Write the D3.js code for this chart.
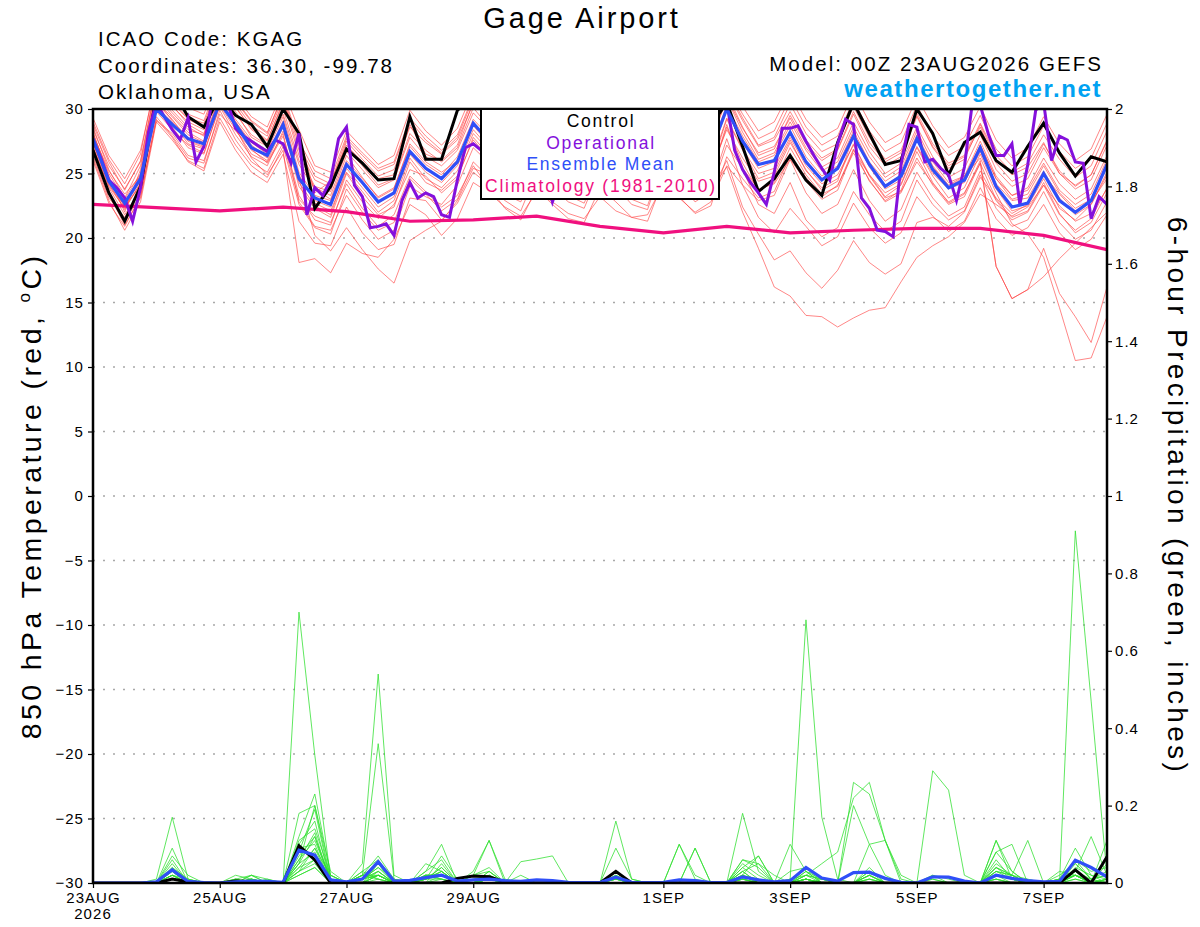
<!DOCTYPE html>
<html lang="en">
<head>
<meta charset="UTF-8">
<title>Gage Airport</title>
<script src="https://d3js.org/d3.v7.min.js"></script>
<style>
  body { margin: 0; background: #fff; }
  svg { display: block; }
  text { font-family: "Liberation Sans", Arial, Helvetica, sans-serif; fill: #000; letter-spacing: 0.1em; }
  .axis text { font-size: 15px; letter-spacing: 0.07em; }
  .axis line { stroke: #000; stroke-width: 1.2; }
  .axis path { display: none; }
</style>
</head>
<body>
<svg id="chart" width="1200" height="927"></svg>
<script>
// forecast hours (6-hourly ensemble output, 3-hourly operational)
const hours6 = d3.range(0, 385, 6);
const hours3 = d3.range(0, 385, 3);
const climHours = [0, 24, 48, 72, 96, 120, 144, 168, 192, 216, 240, 264, 288, 312, 336, 360, 384];

const tempTicks = [-30, -25, -20, -15, -10, -5, 0, 5, 10, 15, 20, 25, 30];
const precipTicks = [0, 0.2, 0.4, 0.6, 0.8, 1, 1.2, 1.4, 1.6, 1.8, 2];
const dateTicks = ["2026-08-23", "2026-08-25", "2026-08-27", "2026-08-29", "2026-09-01", "2026-09-03", "2026-09-05", "2026-09-07"];

// 850 hPa temperature, degC
const controlTemp = [
  26.8,23.5,21.3,24.0, 31.0,31.5,29.4,28.6, 31.0,29.5,28.8,27.1, 30.0,28.1,22.3,24.0,
  26.9,25.8,24.5,24.6, 29.4,26.1,26.1,29.9, 31.0,30.2,29.0,28.4, 31.0,29.6,28.2,27.5,
  30.8,29.4,28.0,27.3, 30.6,29.2,27.8,28.7, 30.5,27.1,23.6,24.6, 26.4,24.5,23.3,27.4,
  30.5,28.1,25.7,26.0, 30.0,28.1,24.9,27.4, 28.2,26.0,25.1,27.1, 28.9,26.6,24.8,26.3,
  25.9];
const meanTemp = [
  27.7,24.4,22.7,24.6, 30.0,28.8,27.7,27.3, 30.5,28.8,27.0,26.4, 28.8,24.6,23.1,22.6,
  25.7,24.3,22.8,23.5, 26.7,25.4,24.6,25.9, 28.9,27.5,26.2,25.5, 28.5,27.0,25.8,25.2,
  28.3,27.0,25.6,25.0, 28.6,27.4,25.9,26.8, 30.0,27.5,25.7,26.0, 28.2,25.9,24.5,25.4,
  27.9,25.7,24.0,24.8, 27.7,25.3,23.9,24.5, 27.0,24.0,22.4,22.7, 25.0,22.9,22.0,22.9,
  25.7];
const operTemp = [
  27.6,26.2,24.5,23.9,23.1,21.3,23.9,28.2, 30.5,29.4,28.4,27.6,29.3,25.9,27.1,30.5,
  31.0,30.5,28.5,27.9,27.5,27.1,26.7,27.6, 27.3,25.8,28.1,21.8,23.9,23.3,24.5,27.7,
  28.6,24.1,23.2,20.8,20.9,21.1,20.2,22.9, 24.3,23.1,23.5,23.2,21.8,21.6,24.5,27.0,
  27.3,26.8,27.8,28.9,27.6,26.3,25.4,26.8, 28.3,25.1,22.8,24.6,26.9,26.0,25.3,26.7,
  29.0,28.2,26.5,25.6,25.1,24.7,25.8,27.9, 29.3,28.4,27.0,26.2,25.5,26.9,28.8,30.5,
  30.5,26.8,25.3,24.3,23.5,22.6,25.1,28.5, 28.5,28.7,27.5,26.4,25.4,24.5,27.3,29.2,
  28.8,23.1,22.3,20.6,20.5,20.1,25.7,28.8, 28.6,25.9,26.1,25.4,24.9,22.9,25.5,30.5,
  30.3,28.1,26.4,26.4,27.3,22.6,25.7,29.9, 30.5,26.0,27.9,27.6,25.9,25.8,21.5,23.2,
  22.6];
const climTemp = [22.6, 22.35, 22.1, 22.4, 22.05, 21.3, 21.4, 21.7, 20.9, 20.4, 20.9, 20.4, 20.6, 20.75, 20.75, 20.2, 19.1];

const memberTemp = [
  [28.2,24.8,22.0,25.3, 31.5,30.2,29.0,28.4, 31.8,30.1,28.5,27.6, 30.4,27.9,23.5,24.4, 27.2,25.9,24.6,24.9, 28.8,26.5,26.0,27.2, 30.6,29.1,27.8,26.9, 30.2,28.4,27.1,26.5, 29.9,28.6,27.0,26.3, 30.4,28.9,27.5,28.1, 31.2,28.6,26.4,26.9, 29.5,27.3,26.0,26.8, 29.6,27.1,25.6,26.3, 29.4,27.0,25.4,26.1, 28.8,26.1,24.9,25.5, 27.4,25.0,24.1,24.9, 27.6],
  [26.9,23.6,21.2,23.4, 29.1,28.1,26.4,26.0, 29.6,28.3,26.9,25.8, 27.9,23.3,21.4,21.0, 24.5,22.8,21.5,22.6, 25.3,24.8,23.5,24.6, 27.8,26.4,25.0,24.2, 27.3,25.9,24.7,23.8, 27.2,25.9,24.3,23.7, 27.5,26.3,24.8,25.4, 29.2,26.8,24.6,25.1, 27.6,25.2,23.9,24.6, 27.3,24.9,23.2,24.1, 27.0,24.8,23.1,23.9, 26.5,23.8,22.1,22.5, 24.6,22.3,21.4,22.6, 25.1],
  [27.3,24.1,22.5,24.0, 30.4,29.2,27.5,27.0, 30.8,28.5,26.2,24.9, 26.8,18.1,18.4,17.3, 19.6,18.8,18.5,19.9, 22.6,21.8,20.2,21.5, 24.3,23.5,22.4,21.7, 23.6,22.8,21.9,21.5, 23.2,22.1,21.6,21.8, 24.2,23.1,22.0,22.8, 25.6,24.1,22.9,23.3, 26.1,24.4,23.0,23.7, 26.8,24.9,23.5,24.2, 27.1,25.0,23.8,24.3, 26.7,24.2,22.9,23.1, 25.2,23.1,21.8,22.6, 24.9],
  [28.0,25.2,23.4,24.8, 30.9,29.5,28.2,27.5, 31.2,29.0,27.4,26.5, 29.1,24.6,20.2,19.0, 20.8,19.1,17.6,16.5, 19.8,20.6,21.3,22.9, 25.4,24.9,23.4,23.0, 26.1,25.3,24.0,23.5, 26.6,25.2,24.1,23.6, 27.2,26.0,24.5,25.3, 28.4,26.2,24.4,24.8, 27.4,25.3,23.7,24.4, 27.9,25.5,23.8,24.5, 27.6,25.2,23.9,24.6, 27.2,24.6,23.0,23.4, 25.6,23.5,22.3,23.0, 25.8],
  [27.5,24.3,22.9,24.4, 31.1,29.7,28.4,28.0, 31.6,29.8,27.8,27.1, 29.6,25.7,23.8,23.0, 26.4,24.7,23.1,23.8, 27.3,25.9,25.1,26.0, 28.7,27.3,26.0,25.4, 28.2,26.7,25.4,24.7, 27.9,26.4,25.0,24.3, 28.0,26.3,24.5,23.8, 25.5,22.0,19.2,16.2, 15.5,14.0,13.9,13.1, 13.8,14.4,14.6,16.6, 18.5,19.4,20.1,21.2, 23.4,22.6,21.7,22.4, 24.1,22.5,21.3,21.9, 23.8],
  [26.4,23.1,21.6,23.8, 29.8,28.4,27.2,26.6, 30.2,28.0,26.3,25.6, 28.3,24.9,22.7,22.1, 25.1,23.6,22.0,22.9, 26.2,24.6,23.9,25.2, 28.1,26.8,25.5,24.9, 27.8,26.3,25.1,24.6, 27.5,26.1,24.7,24.0, 27.8,26.0,24.1,23.6, 26.0,22.4,20.3,18.3, 19.0,17.3,16.1,17.5, 19.8,18.1,17.2,18.0, 21.2,21.6,20.9,22.0, 24.7,23.1,21.9,22.6, 24.9,23.4,22.1,22.8, 24.6],
  [28.4,25.6,23.8,25.9, 31.9,30.6,29.3,28.9, 32.0,30.4,28.7,27.9, 30.8,26.8,24.5,23.9, 27.0,25.6,24.1,24.6, 28.1,26.8,25.9,27.0, 30.1,28.6,27.2,26.4, 29.6,28.1,26.7,26.0, 29.3,27.9,26.5,25.7, 29.6,28.3,26.9,27.5, 30.8,28.2,26.1,26.6, 29.0,26.8,25.2,25.9, 28.6,26.3,24.7,25.5, 28.3,25.9,24.3,24.8, 26.2,23.5,21.1,20.3, 18.5,14.6,10.5,10.7, 13.9],
  [27.1,24.0,22.3,24.2, 30.1,28.9,27.6,27.1, 30.6,28.9,27.1,26.2, 28.9,24.3,22.5,21.8, 25.4,23.9,22.4,23.2, 26.5,25.1,24.3,25.6, 28.4,27.0,25.7,25.1, 28.0,26.5,25.2,24.5, 27.7,26.2,24.8,24.1, 28.1,26.6,25.0,25.7, 29.3,26.9,25.0,25.4, 27.8,25.6,24.2,24.9, 27.2,24.8,23.1,23.6, 25.9,24.2,22.8,23.5, 25.8,17.8,15.3,16.0, 19.2,15.7,13.9,11.9, 16.2],
  [29.0,26.1,24.2,26.5, 32.6,31.2,30.1,29.6, 32.8,31.0,29.4,28.6, 31.5,28.4,25.6,25.1, 28.3,27.0,25.7,26.4, 29.9,28.3,27.2,28.5, 31.4,30.0,28.6,27.9, 31.0,29.5,28.2,27.6, 30.7,29.3,27.9,27.3, 31.0,29.7,28.3,29.1, 32.1,30.2,28.3,29.0, 31.4,29.2,27.8,28.5, 31.3,29.0,27.4,28.1, 30.9,28.7,27.0,27.8, 30.2,27.6,26.2,27.0, 29.4,27.3,26.0,26.9, 29.6],
  [27.8,24.6,22.6,24.9, 30.5,29.4,28.0,27.4, 31.0,29.2,27.6,26.8, 29.4,25.1,23.3,22.9, 26.0,24.6,23.2,23.9, 27.1,25.7,24.9,26.3, 29.2,27.9,26.6,25.8, 28.9,27.4,26.1,25.4, 28.6,27.2,25.8,25.2, 29.0,27.6,26.1,26.9, 30.3,27.9,25.9,26.4, 28.7,26.3,24.8,25.6, 28.3,25.9,24.4,25.2, 28.0,25.6,24.1,24.8, 27.5,24.8,23.3,23.7, 25.8,23.7,22.6,23.4, 26.1],
  [26.7,23.4,21.0,23.1, 29.4,27.9,26.2,25.8, 29.9,27.6,25.9,25.1, 27.4,23.0,21.7,21.2, 24.2,22.3,20.9,21.8, 24.8,23.6,22.4,23.3, 25.6,23.9,22.3,21.4, 23.8,22.6,21.5,21.2, 23.9,22.8,21.6,21.3, 24.5,23.2,21.9,22.5, 26.3,24.6,23.1,23.6, 26.4,24.7,23.2,24.1, 26.6,24.5,22.8,23.5, 26.2,24.1,22.6,23.2, 25.8,23.0,21.6,22.1, 24.3,21.9,20.4,21.2, 23.5],
  [28.6,25.3,23.1,25.6, 31.7,30.3,28.8,28.1, 31.9,30.2,28.4,27.5, 30.6,26.4,24.0,23.6, 27.5,26.1,24.8,25.3, 28.6,27.4,26.5,27.6, 30.4,29.3,27.9,27.1, 30.3,28.9,27.6,26.9, 30.1,28.6,27.2,26.5, 30.5,29.1,27.6,28.4, 31.6,29.3,27.2,27.8, 30.4,28.1,26.7,27.3, 30.2,27.8,26.1,26.8, 29.7,27.3,25.8,26.4, 28.9,26.4,25.1,25.8, 28.0,26.1,24.7,25.6, 28.3],
  [27.0,23.9,21.8,23.6, 30.0,28.6,27.0,26.5, 30.3,28.4,26.5,25.9, 28.1,22.8,20.9,20.6, 23.3,21.4,19.9,20.6, 24.0,23.2,22.6,24.1, 27.0,25.8,24.6,23.9, 26.9,25.4,24.2,23.6, 26.8,25.4,24.0,23.4, 27.1,25.6,24.0,24.9, 28.6,25.8,23.7,24.3, 27.0,24.9,23.4,24.0, 26.9,24.4,22.9,23.7, 26.7,24.3,22.7,23.4, 26.0,17.8,15.3,16.0, 17.0,18.4,19.6,20.8, 22.0],
  [28.1,25.0,23.0,25.0, 31.3,29.9,28.6,27.9, 31.5,29.6,28.0,27.2, 30.0,26.0,23.9,23.3, 26.7,25.3,23.9,24.5, 27.8,26.3,25.6,26.8, 29.7,28.4,27.1,26.3, 29.4,27.9,26.6,25.9, 29.2,27.7,26.3,25.6, 29.5,28.0,26.6,27.3, 30.9,28.5,26.6,27.1, 29.3,27.0,25.5,26.2, 29.0,26.7,25.0,25.8, 28.6,26.3,24.7,25.4, 28.0,25.3,24.0,24.6, 27.0,25.0,23.8,24.5, 27.2],
  [27.4,24.2,22.2,24.3, 30.2,29.0,27.3,26.9, 30.7,28.7,26.8,26.0, 28.6,24.0,22.3,21.6, 25.0,23.2,21.8,22.4, 25.9,24.3,23.7,24.8, 27.6,26.2,24.9,24.3, 27.4,26.0,24.8,24.1, 27.3,25.8,24.4,23.8, 27.6,25.9,24.3,24.9, 28.8,25.3,22.6,21.9, 24.3,21.4,20.1,20.8, 23.6,21.8,20.5,21.3, 24.5,22.6,21.4,22.1, 24.9,22.3,20.9,21.4, 23.6,21.2,19.9,20.6, 22.8],
  [29.3,26.4,24.6,26.8, 32.2,30.9,29.6,29.1, 32.4,30.6,29.0,28.1, 31.2,27.5,25.2,24.6, 27.9,26.6,25.4,25.9, 29.3,27.9,26.8,28.0, 31.0,29.6,28.2,27.5, 30.7,29.2,27.9,27.2, 30.4,29.0,27.6,27.0, 30.8,29.4,28.0,28.7, 31.8,29.6,27.7,28.3, 30.9,28.6,27.2,27.9, 30.7,28.3,26.7,27.4, 30.3,27.9,26.4,27.1, 29.5,26.9,25.6,26.3, 28.7,26.7,25.4,26.2, 28.9],
  [26.2,22.9,20.6,22.8, 29.0,27.6,26.0,25.4, 29.3,27.2,25.6,24.7, 27.1,22.6,20.8,20.3, 23.8,22.0,20.6,21.2, 24.6,23.4,22.1,23.0, 25.9,24.7,23.4,22.8, 25.8,24.5,23.3,22.7, 25.6,24.3,23.0,22.5, 26.0,24.6,23.1,23.9, 27.7,24.1,21.6,20.4, 22.3,20.9,19.4,20.1, 22.7,20.8,19.6,20.4, 23.2,21.7,20.5,21.3, 23.9,21.5,20.2,20.8, 22.6,20.4,19.1,19.9, 21.8],
  [28.8,25.9,23.7,26.0, 32.0,30.5,29.2,28.6, 32.3,30.7,29.1,28.2, 31.0,27.2,24.8,24.2, 27.7,26.4,25.2,25.7, 29.1,27.6,26.6,27.8, 30.8,29.4,28.0,27.2, 30.5,29.0,27.7,27.0, 30.2,28.8,27.4,26.8, 30.6,29.2,27.8,28.6, 31.4,29.1,27.1,27.6, 29.8,27.6,26.2,26.9, 29.8,27.4,25.9,26.6, 29.5,27.1,25.6,26.3, 28.6,25.8,24.4,25.0, 27.3,25.2,24.0,24.9, 27.5],
  [26.0,22.7,20.9,23.2, 29.2,27.8,25.9,25.2, 29.0,26.8,25.1,24.3, 26.5,21.3,19.6,19.4, 22.4,20.4,19.1,19.5, 23.1,22.9,21.4,22.7, 25.1,24.1,22.9,22.1, 25.1,23.9,22.8,22.3, 25.3,24.0,22.6,22.2, 25.8,24.4,22.8,23.6, 27.2,25.4,23.8,24.2, 26.1,23.5,21.9,22.6, 25.3,22.9,21.3,22.2, 25.1,23.1,21.7,22.4, 25.2,22.9,21.4,22.0, 24.1,21.8,20.6,21.5, 23.9],
  [27.6,24.5,22.4,24.5, 30.7,29.1,27.8,27.2, 30.9,29.0,27.2,26.3, 29.0,24.8,22.9,22.4, 25.8,24.2,22.7,23.5, 26.8,25.3,24.6,25.9, 28.8,27.6,26.3,25.6, 28.5,27.0,25.8,25.1, 28.3,26.9,25.5,24.9, 28.6,27.1,25.6,26.4, 29.9,27.4,25.4,25.9, 28.3,26.0,24.6,25.3, 28.1,25.7,24.1,24.9, 27.8,25.5,24.0,24.7, 27.2,24.6,23.3,23.9, 26.2,24.2,23.0,23.8, 26.4]
];

// 6-hour precipitation, inches
const controlPrecip = [
  0,0,0,0, 0,0.01,0.003,0, 0,0.005,0.004,0, 0,0.096,0.06,0, 0,0,0,0, 0,0,0,0.012,
  0.018,0.016,0.003,0, 0,0,0,0, 0,0.03,0,0, 0,0,0,0, 0,0,0,0, 0,0,0,0,
  0,0,0,0, 0,0,0,0, 0,0,0,0, 0,0,0.034,0, 0.068];
const meanPrecip = [
  0,0,0,0, 0.003,0.034,0.004,0.001, 0,0.003,0.005,0.004, 0.002,0.085,0.072,0.008, 0.003,0.01,0.055,0.005, 0.007,0.014,0.02,0.005,
  0.008,0.01,0.006,0.004, 0.008,0.006,0.002,0.001, 0.001,0.015,0.002,0.001, 0.002,0.008,0.006,0.001, 0.001,0.016,0.008,0.003, 0.006,0.04,0.013,0.005,
  0.027,0.028,0.012,0.002, 0,0.016,0.015,0.005, 0,0.02,0.012,0.006, 0.003,0.004,0.059,0.04, 0.016];
const memberPrecip = [
  [0,0,0,0, 0,0.02,0,0, 0,0,0.01,0, 0,0.70,0.33,0.01, 0,0.01,0.04,0, 0,0.01,0.03,0, 0,0.02,0,0, 0,0,0,0, 0,0.03,0,0, 0,0,0,0, 0,0.01,0,0, 0,0.02,0.01,0, 0,0.03,0.01,0, 0,0,0,0, 0,0.02,0.01,0, 0,0,0.05,0.01, 0],
  [0,0,0,0, 0.01,0.17,0.01,0, 0,0.01,0,0, 0,0.12,0.23,0.02, 0,0.02,0.07,0.01, 0,0.03,0.06,0, 0.03,0.11,0,0, 0,0,0,0, 0,0,0,0, 0,0.10,0.02,0, 0,0.04,0.01,0, 0,0.03,0,0, 0.26,0.23,0.11,0.02, 0,0,0,0, 0,0.01,0,0, 0,0.01,0.09,0.02, 0.01],
  [0,0,0,0, 0,0.09,0,0, 0,0,0,0, 0,0.18,0.20,0.01, 0,0.05,0.54,0.02, 0,0.02,0.02,0, 0,0,0,0.02, 0,0,0,0, 0,0.09,0.01,0, 0,0,0,0, 0,0.18,0.03,0, 0,0,0,0, 0,0.02,0,0, 0,0.02,0.01,0, 0,0.11,0.03,0, 0,0,0.03,0.12, 0.02],
  [0,0,0,0, 0,0.07,0.02,0, 0,0,0,0, 0,0.10,0.16,0, 0,0.02,0.36,0.01, 0,0.01,0.04,0, 0,0.03,0,0, 0,0,0,0, 0,0.03,0,0, 0,0,0.09,0, 0,0.06,0.05,0, 0,0.01,0,0, 0,0,0,0, 0,0.29,0.24,0.02, 0,0.04,0.02,0, 0,0,0.02,0, 0.05],
  [0,0,0,0, 0,0.05,0,0, 0,0.01,0.02,0, 0,0.06,0.13,0, 0,0,0.05,0, 0,0.01,0.02,0, 0,0.03,0,0.055, 0.062,0.07,0,0, 0,0,0,0, 0,0,0,0, 0,0.03,0,0, 0.01,0.68,0.17,0.01, 0,0.02,0,0, 0,0.01,0,0, 0,0.08,0.03,0, 0,0,0.01,0, 0],
  [0,0,0,0, 0,0.03,0,0, 0,0,0.01,0, 0,0.09,0.10,0, 0,0.01,0.02,0, 0,0,0.05,0, 0.02,0.04,0,0, 0,0,0,0, 0,0.02,0,0, 0,0,0,0, 0,0.01,0,0, 0,0.03,0,0, 0,0,0,0, 0,0.02,0,0, 0,0.03,0.02,0.01, 0,0,0.91,0.47, 0.02],
  [0,0,0,0, 0,0.04,0.01,0, 0,0.02,0.01,0, 0,0.07,0.12,0.01, 0,0,0.03,0, 0,0.02,0.01,0, 0.02,0.03,0,0, 0,0,0,0, 0,0.01,0,0, 0,0,0,0, 0,0.06,0.04,0, 0.01,0.02,0.05,0.08, 0.22,0.26,0.11,0.01, 0,0,0,0, 0,0.05,0.02,0, 0,0.01,0.06,0.03, 0.04],
  [0,0,0,0, 0,0.03,0,0, 0,0,0.02,0, 0,0.04,0.09,0, 0,0.02,0.02,0, 0,0.01,0.07,0.01, 0,0.02,0,0, 0,0,0,0, 0,0.16,0.01,0, 0,0,0,0, 0,0.04,0.07,0, 0.03,0.04,0,0, 0,0.02,0,0, 0,0,0,0, 0,0.04,0.02,0, 0,0.03,0.02,0, 0.01],
  [0,0,0,0, 0,0.02,0,0, 0,0.01,0,0, 0,0.05,0.20,0.03, 0,0.03,0.06,0, 0,0.05,0.03,0, 0.02,0.11,0.01,0, 0,0,0,0, 0,0,0,0, 0,0,0,0, 0,0.02,0,0, 0,0.01,0,0, 0,0.03,0,0, 0,0,0,0, 0,0.03,0.02,0.11, 0,0,0.04,0.02, 0],
  [0,0,0,0, 0,0.01,0,0, 0,0,0.01,0, 0,0.03,0.06,0, 0,0.01,0.03,0, 0,0.03,0.10,0, 0,0.01,0,0, 0,0,0,0, 0,0.01,0,0, 0,0.10,0.01,0, 0,0.01,0,0, 0,0.02,0.01,0, 0,0.10,0.02,0, 0,0,0,0, 0,0.11,0.01,0, 0,0.02,0.05,0.01, 0.03],
  [0,0,0,0, 0,0.01,0,0, 0,0,0,0.01, 0,0.02,0.04,0, 0,0.03,0.01,0, 0,0.02,0.01,0, 0,0.01,0,0, 0,0,0,0, 0,0,0,0, 0,0,0.09,0, 0,0.02,0,0, 0,0,0.01,0, 0.20,0.10,0.11,0, 0,0,0,0, 0,0.08,0.10,0, 0,0.01,0.03,0, 0.11],
  [0,0,0,0, 0,0.01,0,0, 0,0,0,0, 0,0.03,0.05,0, 0,0,0.02,0, 0,0.01,0.03,0, 0,0,0,0, 0,0,0,0, 0,0,0,0, 0,0,0,0, 0,0.02,0.07,0, 0.10,0.03,0.01,0, 0,0.04,0,0, 0,0,0,0, 0,0.06,0.01,0, 0,0,0.03,0.01, 0],
  [0,0,0,0, 0,0.04,0,0, 0,0,0.01,0, 0,0.11,0.14,0.02, 0,0,0.02,0, 0,0.02,0.02,0, 0,0.01,0,0, 0,0,0,0, 0,0.03,0,0, 0,0,0,0, 0,0.03,0.05,0.02, 0,0.01,0,0, 0,0.01,0,0, 0,0,0,0, 0,0.04,0.01,0, 0,0.01,0.02,0, 0.01],
  [0,0,0,0, 0,0.02,0.01,0, 0,0,0.02,0.01, 0,0.08,0.19,0, 0,0.02,0.01,0, 0,0,0.02,0, 0,0.02,0,0, 0,0,0,0, 0,0,0,0, 0,0,0,0, 0,0.01,0,0, 0,0.01,0,0, 0,0.02,0,0, 0,0,0,0, 0,0.03,0.01,0, 0,0,0.06,0.01, 0.02],
  [0,0,0,0, 0,0.03,0,0, 0,0,0,0, 0,0.06,0.11,0.01, 0,0,0.02,0, 0,0.01,0.01,0, 0,0.01,0,0, 0,0,0,0, 0,0.01,0,0, 0,0,0,0, 0,0.02,0.01,0, 0,0.01,0,0, 0,0.01,0,0, 0,0,0,0, 0,0.02,0.01,0, 0,0,0.02,0, 0.01],
  [0,0,0,0, 0,0.01,0,0, 0,0.01,0,0, 0,0.05,0.08,0, 0,0.01,0.04,0.01, 0,0.02,0.02,0, 0,0.01,0,0, 0,0,0,0, 0,0,0,0, 0,0,0,0, 0,0.02,0,0, 0,0,0,0, 0,0,0,0, 0,0,0,0, 0,0.02,0,0, 0,0,0.01,0, 0],
  [0,0,0,0, 0,0.06,0,0, 0,0,0.01,0, 0,0.04,0.06,0.01, 0,0.02,0.05,0, 0,0.01,0.04,0, 0.01,0.02,0,0, 0,0,0,0, 0,0.02,0,0, 0,0,0,0, 0,0.05,0.02,0, 0,0.01,0,0, 0,0,0,0, 0,0.01,0,0, 0,0,0,0, 0,0,0.02,0.01, 0.02],
  [0,0,0,0, 0,0.02,0,0, 0,0,0,0, 0,0.02,0.04,0, 0,0,0.01,0, 0,0.02,0.02,0, 0,0.01,0,0, 0,0,0,0, 0,0,0,0, 0,0,0,0, 0,0.01,0,0, 0,0,0,0, 0,0.01,0,0, 0,0,0,0, 0,0.01,0,0, 0,0,0.03,0, 0],
  [0,0,0,0, 0,0.01,0,0, 0,0,0,0, 0,0.03,0.09,0.02, 0,0.01,0.03,0, 0,0,0.01,0, 0,0.02,0,0, 0,0,0,0, 0,0.01,0,0, 0,0,0,0, 0,0.03,0,0, 0,0.02,0,0, 0,0,0,0, 0,0,0,0, 0,0.02,0.01,0, 0,0.01,0.02,0, 0],
  [0,0,0,0, 0,0.02,0,0, 0,0,0,0, 0,0.05,0.12,0, 0,0.01,0.02,0, 0,0.01,0.03,0, 0,0.02,0,0, 0,0,0,0, 0,0.01,0,0, 0,0,0,0, 0,0.02,0,0, 0,0.01,0,0, 0,0,0,0, 0,0,0,0, 0,0.01,0,0, 0,0,0.02,0, 0.01]
];

const legendItems = [
  { label: "Control", color: "#000000" },
  { label: "Operational", color: "#8410dc" },
  { label: "Ensemble Mean", color: "#2f4ff8" },
  { label: "Climatology (1981-2010)", color: "#f0107f" }
];

const margin = { top: 109, right: 93, bottom: 44, left: 93 };
const width = 1200 - margin.left - margin.right;
const height = 927 - margin.top - margin.bottom;
const runStart = Date.UTC(2026, 7, 23, 0);
const hourDate = h => new Date(runStart + h * 3600 * 1000);

const svg = d3.select("#chart");
const g = svg.append("g").attr("transform", `translate(${margin.left},${margin.top})`);

const x = d3.scaleUtc().domain([hourDate(0), hourDate(384)]).range([0, width]);
const yT = d3.scaleLinear().domain([-30, 30]).range([height, 0]);
const yP = d3.scaleLinear().domain([0, 2]).range([height, 0]);

g.append("clipPath").attr("id", "plot-clip")
  .append("rect").attr("width", width).attr("height", height);

// dotted grid at temperature ticks
g.append("g").selectAll("line")
  .data(tempTicks.filter(v => v > -30 && v < 30))
  .enter().append("line")
  .attr("x1", 0).attr("x2", width)
  .attr("y1", d => yT(d)).attr("y2", d => yT(d))
  .attr("stroke", "#a8a8a8").attr("stroke-width", 1.6)
  .attr("stroke-dasharray", "2,8");

const plot = g.append("g").attr("clip-path", "url(#plot-clip)");

const tempLine = hrs => d3.line().x((d, i) => x(hourDate(hrs[i]))).y(d => yT(d));
const precipLine = d3.line().x((d, i) => x(hourDate(hours6[i]))).y(d => yP(d));

plot.append("g").selectAll("path")
  .data(memberTemp).enter().append("path")
  .attr("d", tempLine(hours6))
  .attr("fill", "none").attr("stroke", "#ff4040")
  .attr("stroke-opacity", 0.7).attr("stroke-width", 0.9);

plot.append("g").selectAll("path")
  .data(memberPrecip).enter().append("path")
  .attr("d", precipLine)
  .attr("fill", "none").attr("stroke", "#2ee02e")
  .attr("stroke-opacity", 0.85).attr("stroke-width", 0.9);

plot.append("path").datum(climTemp)
  .attr("d", tempLine(climHours))
  .attr("fill", "none").attr("stroke", legendItems[3].color).attr("stroke-width", 3.2);

plot.append("path").datum(controlTemp)
  .attr("d", tempLine(hours6))
  .attr("fill", "none").attr("stroke", legendItems[0].color).attr("stroke-width", 3);

plot.append("path").datum(operTemp)
  .attr("d", tempLine(hours3))
  .attr("fill", "none").attr("stroke", legendItems[1].color).attr("stroke-width", 3);

plot.append("path").datum(meanTemp)
  .attr("d", tempLine(hours6))
  .attr("fill", "none").attr("stroke", legendItems[2].color).attr("stroke-width", 3.2);

plot.append("path").datum(controlPrecip)
  .attr("d", precipLine)
  .attr("fill", "none").attr("stroke", "#000").attr("stroke-width", 3);

plot.append("path").datum(meanPrecip)
  .attr("d", precipLine)
  .attr("fill", "none").attr("stroke", legendItems[2].color).attr("stroke-width", 3.2);

// axes
const fmtDay = d3.utcFormat("%-d%b");
g.append("g").attr("class", "axis")
  .attr("transform", `translate(0,${height})`)
  .call(d3.axisBottom(x)
    .tickValues(dateTicks.map(s => new Date(s + "T00:00:00Z")))
    .tickFormat(d => fmtDay(d).toUpperCase())
    .tickSize(5).tickPadding(4));

g.append("text")
  .attr("x", 0).attr("y", height + 36)
  .attr("text-anchor", "middle").style("font-size", "15px").style("letter-spacing", "0.07em")
  .text("2026");

g.append("g").attr("class", "axis")
  .call(d3.axisLeft(yT).tickValues(tempTicks).tickSize(5).tickPadding(4));

g.append("g").attr("class", "axis")
  .attr("transform", `translate(${width},0)`)
  .call(d3.axisRight(yP).tickValues(precipTicks).tickFormat(d3.format("~g")).tickSize(5).tickPadding(3));

// frame
g.append("rect")
  .attr("width", width).attr("height", height)
  .attr("fill", "none").attr("stroke", "#000").attr("stroke-width", 2.5);

// legend
const legend = g.append("g");
legend.append("rect")
  .attr("x", 388).attr("y", 0).attr("width", 238).attr("height", 90)
  .attr("fill", "#fff").attr("stroke", "#000").attr("stroke-width", 2);
legend.selectAll("text")
  .data(legendItems).enter().append("text")
  .attr("x", 508).attr("y", (d, i) => 18 + i * 21.5)
  .attr("text-anchor", "middle")
  .style("font-size", "17.5px")
  .style("fill", d => d.color)
  .text(d => d.label);

// axis titles
const leftTitle = svg.append("text")
  .attr("transform", "translate(41,496) rotate(-90)")
  .attr("text-anchor", "middle")
  .style("font-size", "28.5px").style("letter-spacing", "0.12em");
leftTitle.append("tspan").text("850 hPa Temperature (red, ");
leftTitle.append("tspan").attr("dy", -11).style("font-size", "17px").text("o");
leftTitle.append("tspan").attr("dy", 11).text("C)");

svg.append("text")
  .attr("transform", "translate(1168,496) rotate(90)")
  .attr("text-anchor", "middle")
  .style("font-size", "28px").style("letter-spacing", "0.12em")
  .text("6-hour Precipitation (green, inches)");

// header
svg.append("text").attr("x", 582).attr("y", 28)
  .attr("text-anchor", "middle").style("font-size", "29px")
  .text("Gage Airport");

const info = ["ICAO Code: KGAG", "Coordinates: 36.30, -99.78", "Oklahoma, USA"];
svg.append("g").selectAll("text")
  .data(info).enter().append("text")
  .attr("x", 98).attr("y", (d, i) => 46 + i * 26.5)
  .style("font-size", "20.5px")
  .text(d => d);

svg.append("text").attr("x", 1103).attr("y", 71)
  .attr("text-anchor", "end").style("font-size", "20.5px")
  .text("Model: 00Z 23AUG2026 GEFS");

svg.append("text").attr("x", 1102).attr("y", 97)
  .attr("text-anchor", "end")
  .style("font-size", "24px").style("font-weight", "bold").style("fill", "#00a2f2")
  .style("letter-spacing", "0.065em")
  .text("weathertogether.net");
</script>
</body>
</html>
